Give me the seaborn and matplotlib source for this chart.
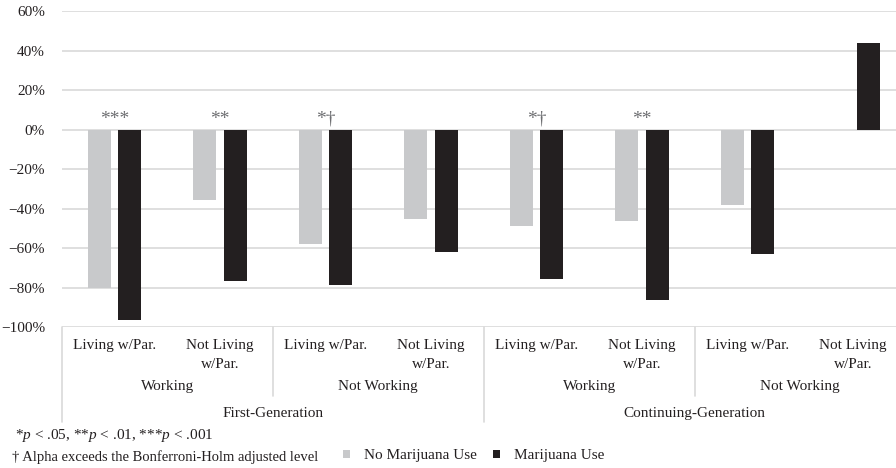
import numpy as np
import pandas as pd
import matplotlib
matplotlib.use("Agg")
import matplotlib.pyplot as plt
import matplotlib.transforms as mtransforms
from matplotlib.ticker import PercentFormatter
import seaborn as sns

# ---------------- data ----------------
generation = ["First-Generation"] * 4 + ["Continuing-Generation"] * 4
working = ["Working", "Working", "Not Working", "Not Working"] * 2
living = ["Living w/Par.", "Not Living\nw/Par."] * 4
no_marijuana = [-80, -35.5, -58, -45, -49, -46, -38, np.nan]
marijuana = [-96.5, -76.5, -78.5, -62, -75.5, -86, -63, 44]
significance = ["***", "**", "*\u2020", "", "*\u2020", "**", "", ""]
series_names = ["No Marijuana Use", "Marijuana Use"]
yticks = list(range(-100, 61, 20))
footnote1 = r"*$p$ < .05, **$p$ < .01, ***$p$ < .001"
footnote2 = "\u2020 Alpha exceeds the Bonferroni-Holm adjusted level"

GREY = "#c8c9cb"
BLACK = "#231f20"
GRID = "#d9d9d9"
TEXT = "#231f20"

sns.set_style("white")
plt.rcParams["font.family"] = ["Liberation Serif", "DejaVu Serif"]
plt.rcParams["mathtext.fontset"] = "custom"
plt.rcParams["mathtext.rm"] = "Liberation Serif"
plt.rcParams["mathtext.it"] = "Liberation Serif:italic"
plt.rcParams["axes.unicode_minus"] = True

keys = [f"c{i}" for i in range(len(living))]
df = pd.DataFrame({
    "key": keys * 2,
    "value": no_marijuana + marijuana,
    "series": [series_names[0]] * len(keys) + [series_names[1]] * len(keys),
})

W, H = 896, 468
fig = plt.figure(figsize=(W / 100, H / 100), dpi=100)
ax_left, ax_bottom_px, ax_top_px, ax_right = 61.7, 327.3, 11.0, 905.7
ax = fig.add_axes([ax_left / W, 1 - ax_bottom_px / H,
                   (ax_right - ax_left) / W, (ax_bottom_px - ax_top_px) / H])

sns.barplot(data=df, x="key", y="value", hue="series", order=keys,
            hue_order=series_names, palette=[GREY, BLACK], width=0.58,
            gap=0.24, linewidth=0, saturation=1, ax=ax, errorbar=None)

ax.set_xlim(-0.5, len(keys) - 0.5)
ax.set_ylim(-100, 60)
ax.set_yticks(yticks)
ax.yaxis.set_major_formatter(PercentFormatter(100, decimals=0))
ax.yaxis.grid(True, color=GRID, lw=1.2)
ax.set_axisbelow(True)
for s in ax.spines.values():
    s.set_visible(False)
ax.tick_params(axis="y", length=0, pad=12, labelsize=11, labelcolor=TEXT)
ax.set_xticks([])
ax.set_xlabel("")
ax.set_ylabel("")

# significance markers
for i, s in enumerate(significance):
    if s:
        ax.text(i, 3, s, ha="center", va="baseline", fontsize=14, color="#6d6e71")

# multi-level category axis
bt = mtransforms.blended_transform_factory(ax.transData, fig.transFigure)
fy = lambda px: 1 - px / H
for i, lab in enumerate(living):
    ax.text(i, fy(339), lab, transform=bt, ha="center", va="top",
            fontsize=11, color=TEXT, linespacing=1.6)

def runs(vals):
    out, start = [], 0
    for i in range(1, len(vals) + 1):
        if i == len(vals) or vals[i] != vals[start]:
            out.append((start, i - 1, vals[start]))
            start = i
    return out

work_keys = [g + "|" + w for g, w in zip(generation, working)]
for a, b, k in runs(work_keys):
    ax.text((a + b) / 2, fy(386.7), k.split("|")[1], transform=bt,
            ha="center", va="center", fontsize=11, color=TEXT)
for a, b, k in runs(generation):
    ax.text((a + b) / 2, fy(413.3), k, transform=bt,
            ha="center", va="center", fontsize=11, color=TEXT)

# separators
gen_bounds = {a - 0.5 for a, b, k in runs(generation)} | {len(keys) - 0.5}
work_bounds = {a - 0.5 for a, b, k in runs(work_keys)} - gen_bounds
for x in sorted(gen_bounds):
    ax.plot([x, x], [fy(ax_bottom_px), fy(421.7)], transform=bt, color=GRID,
            lw=1.2, clip_on=False)
for x in sorted(work_bounds):
    ax.plot([x, x], [fy(ax_bottom_px), fy(395.7)], transform=bt, color=GRID,
            lw=1.2, clip_on=False)

# footnotes
fig.text(15 / W, fy(435), footnote1, ha="left", va="center", fontsize=11, color=TEXT)
fig.text(12 / W, fy(456.7), footnote2, ha="left", va="center", fontsize=10.5, color=TEXT)

# legend
handles, labels = ax.get_legend_handles_labels()
if ax.legend_ is not None:
    ax.legend_.remove()
fig.legend(handles, labels, loc="center left", bbox_to_anchor=(343 / W, fy(456)),
           ncol=2, frameon=False, borderpad=0, borderaxespad=0,
           handlelength=0.45, handleheight=0.45, handletextpad=0.9,
           columnspacing=1.1, fontsize=11, labelcolor=TEXT)

fig.savefig("out.png", dpi=100)
